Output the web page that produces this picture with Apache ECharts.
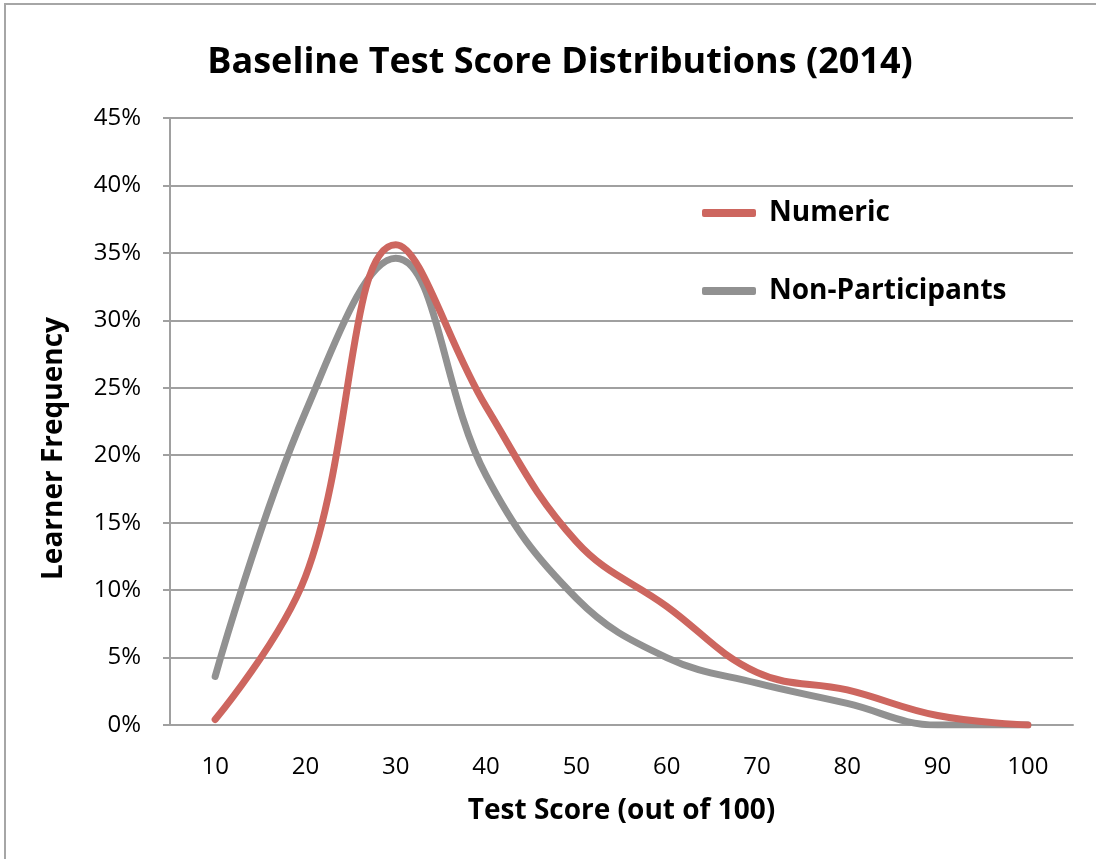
<!DOCTYPE html>
<html>
<head>
<meta charset="utf-8">
<script src="https://cdn.jsdelivr.net/npm/echarts@6/dist/echarts.min.js"></script>
<style>
  html, body { margin: 0; padding: 0; background: #fff; }
  #chart { width: 1096px; height: 859px; }
</style>
</head>
<body>
<div id="chart"></div>
<script>
// 数据
var scores = ["10", "20", "30", "40", "50", "60", "70", "80", "90", "100"];
var numeric = [0.4, 11, 35.6, 23.6, 13.6, 8.8, 3.9, 2.6, 0.7, 0];
var nonParticipants = [3.6, 23.2, 34.6, 18.5, 9.4, 5.0, 3.1, 1.6, 0, 0];
var yTicks = { min: 0, max: 45, step: 5 };

var font = "'Open Sans', 'Noto Sans', sans-serif";
var myChart = echarts.init(document.getElementById("chart"));

var option = {
  animation: false,
  title: {
    text: "Baseline Test Score Distributions (2014)",
    left: 555,
    top: 40,
    textAlign: "center",
    textStyle: { fontFamily: font, fontSize: 36, fontWeight: "bold", color: "#000" },
  },
  // 外框
  graphic: [
    {
      type: "rect",
      shape: { x: 5, y: 4, width: 1300, height: 1000 },
      style: { fill: "none", stroke: "#a6a6a6", lineWidth: 2 },
    },
  ],
  legend: {
    orient: "vertical",
    left: 697,
    top: 194,
    itemWidth: 54,
    itemHeight: 8,
    itemGap: 50,
    icon: "roundRect",
    textStyle: { fontFamily: font, fontSize: 28, fontWeight: "bold", color: "#000", padding: [0, 0, 0, 8] },
    data: ["Numeric", "Non-Participants"],
  },
  grid: { left: 170, right: 23, top: 118, bottom: 134 },
  xAxis: {
    type: "category",
    data: scores,
    boundaryGap: true,
    name: "Test Score (out of 100)",
    nameLocation: "middle",
    nameGap: 72,
    nameTextStyle: { fontFamily: font, fontSize: 28, fontWeight: "bold", color: "#000" },
    axisLine: { lineStyle: { color: "#a0a0a0", width: 2 } },
    axisTick: { length: 8, lineStyle: { color: "#a0a0a0", width: 2 } },
    axisLabel: { fontFamily: font, fontSize: 24, color: "#000", margin: 30 },
  },
  yAxis: {
    type: "value",
    min: yTicks.min,
    max: yTicks.max,
    interval: yTicks.step,
    name: "Learner Frequency",
    nameLocation: "middle",
    nameRotate: 90,
    nameGap: 102,
    nameTextStyle: { fontFamily: font, fontSize: 28, fontWeight: "bold", color: "#000", padding: [0, 54, 0, 0] },
    axisLine: { show: true, lineStyle: { color: "#a0a0a0", width: 2 } },
    axisTick: { show: true, length: 7, lineStyle: { color: "#a0a0a0", width: 2 } },
    axisLabel: { fontFamily: font, fontSize: 24, color: "#000", margin: 29, formatter: "{value}%" },
    splitLine: { lineStyle: { color: "#a0a0a0", width: 2 } },
  },
  series: [
    {
      name: "Numeric",
      type: "line",
      data: numeric,
      smooth: 0.4,
      showSymbol: false,
      symbol: "none",
      itemStyle: { color: "#cd665f" },
      lineStyle: { color: "#cd665f", width: 7, cap: "round", join: "round" },
      z: 3,
    },
    {
      name: "Non-Participants",
      type: "line",
      data: nonParticipants,
      smooth: 0.4,
      showSymbol: false,
      symbol: "none",
      itemStyle: { color: "#919191" },
      lineStyle: { color: "#919191", width: 7, cap: "round", join: "round" },
      z: 2,
    },
  ],
};

option && myChart.setOption(option);
</script>
</body>
</html>
